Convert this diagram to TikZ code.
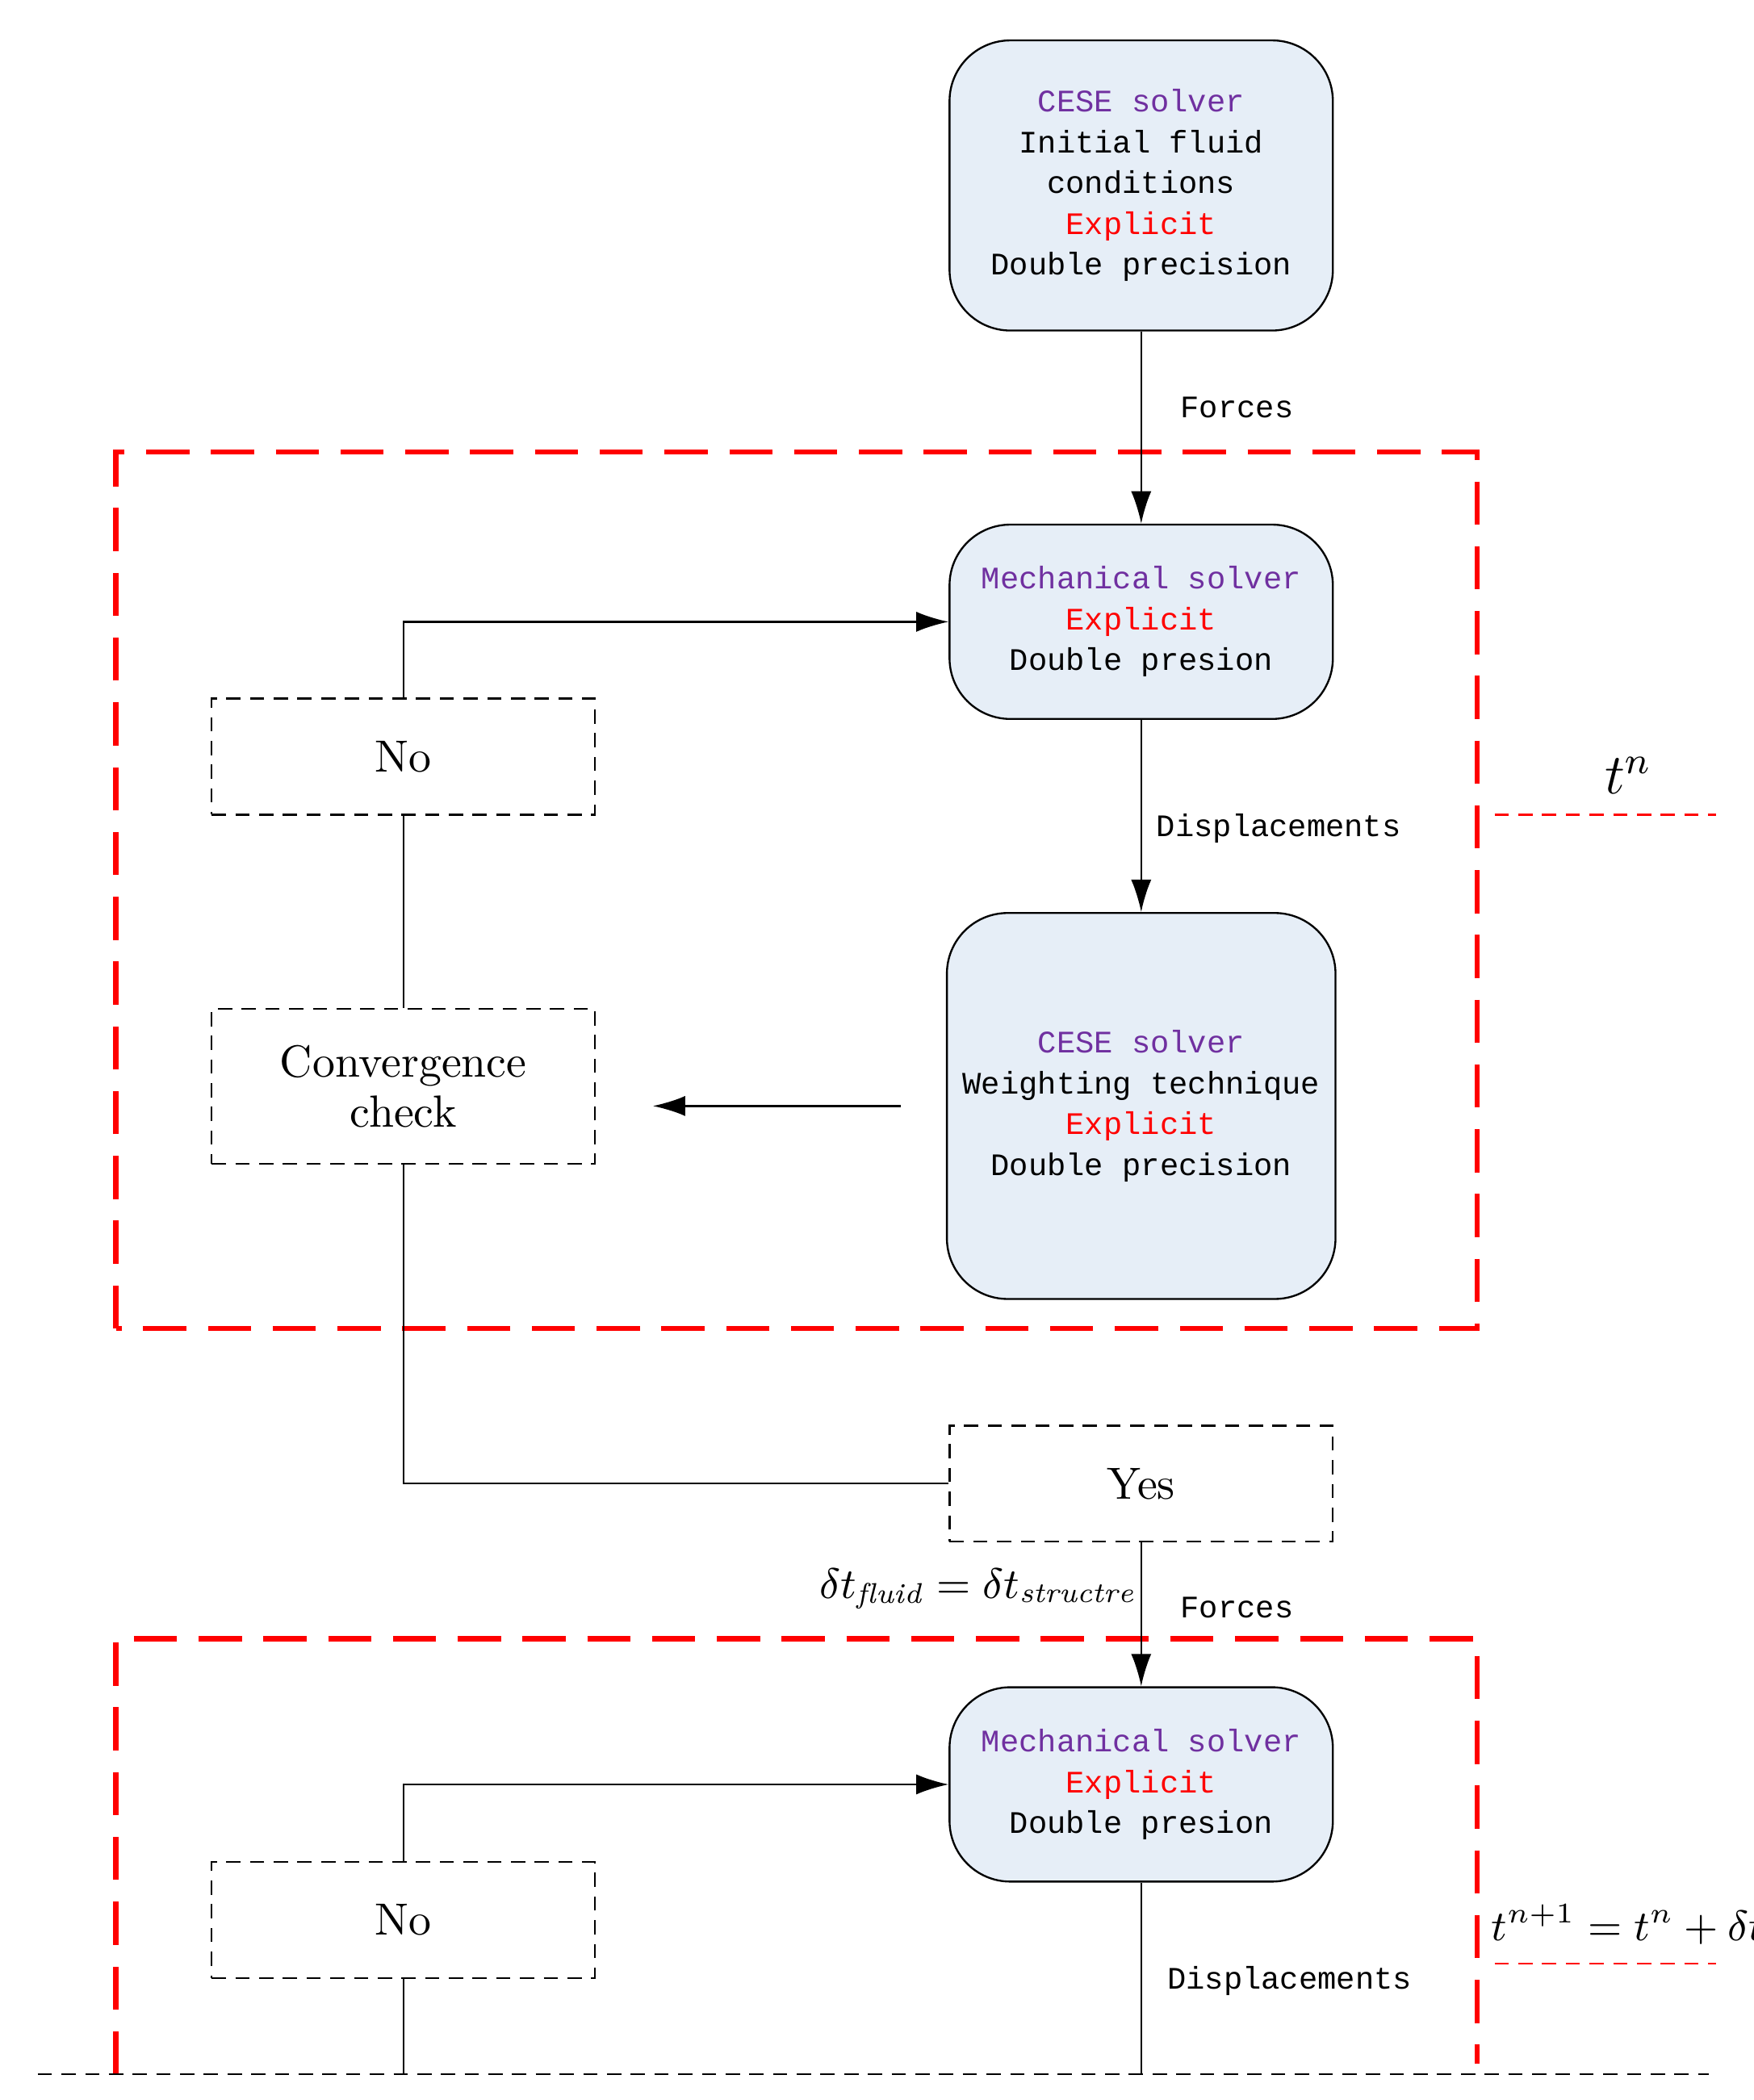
\documentclass[tikz,border=0pt]{standalone}
\usepackage{fontspec}
\setmonofont{Liberation Mono}
\usepackage{tikz}
\usetikzlibrary{arrows.meta, calc, positioning}
\definecolor{boxblue}{RGB}{230,238,247}
\definecolor{solverpurple}{RGB}{112,48,160}
\begin{document}
\begin{tikzpicture}[x=0.01cm, y=-0.01cm, >={Latex[length=2.4mm,width=1.5mm]},
    solver/.style={draw, rounded corners=0.45cm, fill=boxblue, minimum width=2.84cm,
        align=center, font=\ttfamily\fontsize{6.6}{8.6}\selectfont},
    check/.style={draw, densely dashed, thin, minimum width=2.84cm, align=center,
        font=\fontsize{9.5}{10.5}\selectfont},
    lbl/.style={font=\ttfamily\fontsize{6.6}{8.6}\selectfont},
    timestep/.style={draw=red, line width=1.1pt, dash pattern=on 3.2mm off 1.6mm}]

            \useasboundingbox (0,0) rectangle (1300,1557);

            % Draw the solver boxes
            \node[solver, minimum height=2.15cm] (cese0) at (846,137.5) {\textcolor{solverpurple}{CESE solver}\\Initial fluid\\conditions\\\textcolor{red}{Explicit}\\Double precision};
            \node[solver, minimum height=1.44cm] (mech1) at (846,461) {\textcolor{solverpurple}{Mechanical solver}\\\textcolor{red}{Explicit}\\Double presion};
            \node[solver, minimum height=2.86cm] (cese1) at (846,820) {\textcolor{solverpurple}{CESE solver}\\Weighting technique\\\textcolor{red}{Explicit}\\Double precision};
            \node[solver, minimum height=1.44cm] (mech2) at (846,1323) {\textcolor{solverpurple}{Mechanical solver}\\\textcolor{red}{Explicit}\\Double presion};

            % Draw the checks
            \node[check, minimum height=0.86cm] (no1) at (299,561) {No};
            \node[check, minimum height=1.15cm] (conv) at (299,805.5) {Convergence\\check};
            \node[check, minimum height=0.86cm] (yes) at (846,1100) {Yes};
            \node[check, minimum height=0.86cm] (no2) at (299,1423.5) {No};

            % Draw the time steps
            \draw[timestep] (86,985) -- (86,335) -- (1095,335) -- (1095,985) -- cycle;
            \draw[timestep] (86,1538) -- (86,1215) -- (1095,1215) -- (1095,1530);
            \draw[red, densely dashed, thin] (1108,604) -- (1272,604);
            \draw[red, densely dashed, thin] (1108,1456) -- (1272,1456);
            \node[font=\large] (tn) at (1207,575) {$t^n$};
            \node[font=\small] (tn1) at (1207,1427) {$t^{n+1}=t^n+\delta t$};

            % Free ends
            \coordinate (arrS) at (668,820);
            \coordinate (arrE) at (484,820);
            \coordinate (endL) at (299,1538);
            \coordinate (endR) at (846,1538);
            \draw[densely dashed, thin] (28,1538) -- (1267,1538);

            % Labels on the connectors
            \node[lbl] (f1) at (917,302) {Forces};
            \node[lbl] (d1) at (948,614) {Displacements};
            \node[lbl] (f2) at (917,1192) {Forces};
            \node[lbl] (d2) at (956,1469) {Displacements};
            \node[font=\small] (dt) at (725,1178) {$\delta t_{\mathit{fluid}}=\delta t_{\mathit{structre}}$};

            % Arrows between the boxes
            \draw[->] (cese0) -- (mech1);
            \draw[->] (mech1) -- (cese1);
            \draw[->] (arrS) -- (arrE);
            \draw (conv) -- (no1);
            \draw[->] (no1.north) |- (mech1.west);
            \draw (conv.south) |- (yes.west);
            \draw[->] (yes) -- (mech2);
            \draw (mech2) -- (endR);
            \draw[->] (no2.north) |- (mech2.west);
            \draw (no2) -- (endL);

\end{tikzpicture}
\end{document}
